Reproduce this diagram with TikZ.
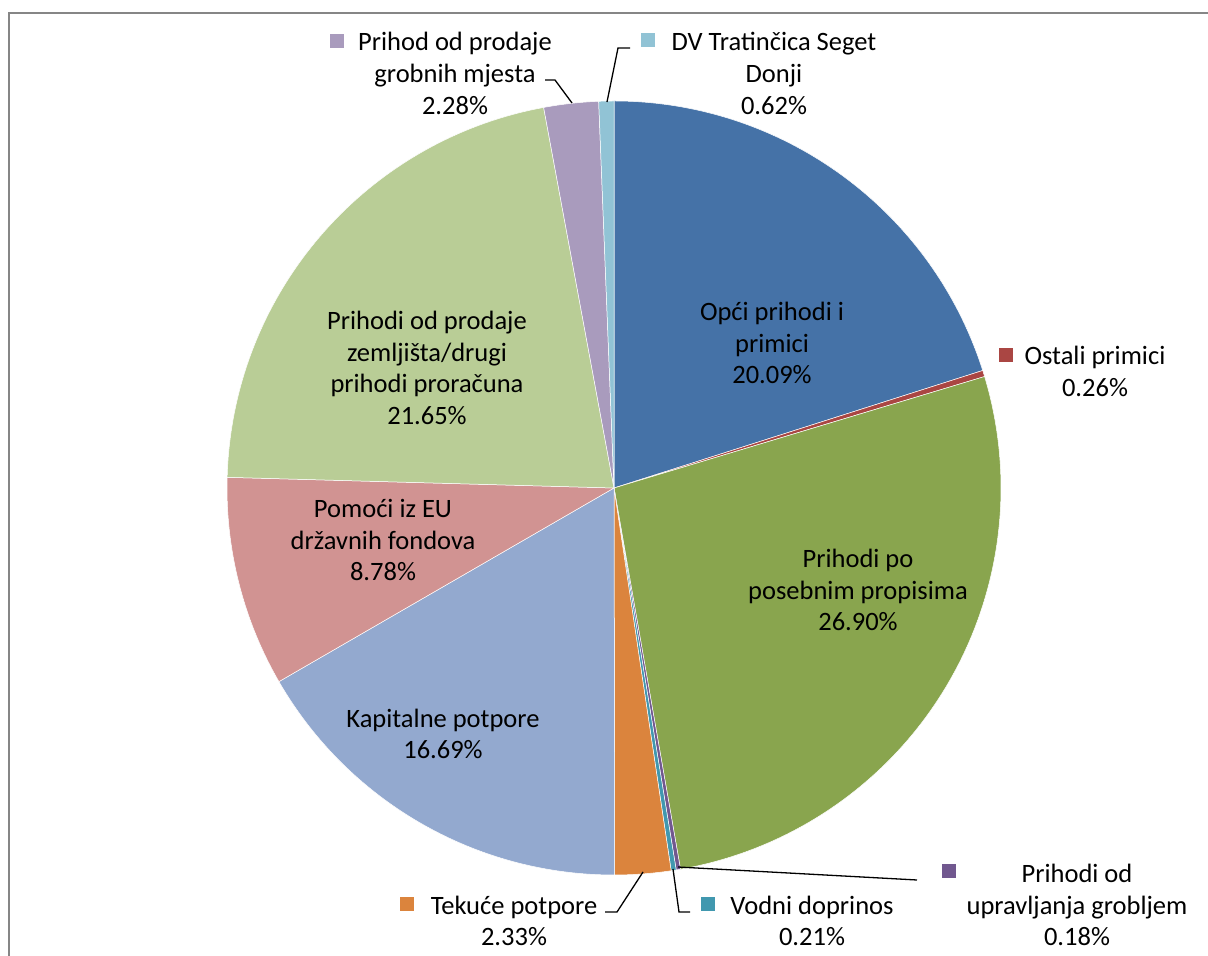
\documentclass[tikz,border=0pt]{standalone}
\usepackage{fontspec}
\setmainfont{Carlito}
\definecolor{cA}{HTML}{4572A7}
\definecolor{cB}{HTML}{AA4643}
\definecolor{cC}{HTML}{89A54E}
\definecolor{cD}{HTML}{71588F}
\definecolor{cE}{HTML}{4198AF}
\definecolor{cF}{HTML}{DB843D}
\definecolor{cG}{HTML}{93A9CF}
\definecolor{cH}{HTML}{D19392}
\definecolor{cI}{HTML}{B9CD96}
\definecolor{cJ}{HTML}{A99BBD}
\definecolor{cK}{HTML}{91C3D5}
\definecolor{frame}{HTML}{868686}
\tikzset{
  lbl/.style={align=center, inner sep=0pt, font=\fontsize{26.5}{31.8}\selectfont},
  key/.style={minimum size=14pt, inner sep=0pt, draw=none},
  leader/.style={draw=black, line width=1.3pt},
  slice/.style={draw=white, line width=0.5pt}
}
\newcommand{\pieslice}[3]{\fill[#3, slice] (614,468) -- ++(#1:387) arc[start angle=#1, end angle=#2, radius=387] -- cycle;}
\begin{document}
\begin{tikzpicture}[x=1pt,y=1pt]
\useasboundingbox (0,0) rectangle (1208,956);
\fill[white] (0,0) rectangle (1208,956);
\draw[frame, line width=2pt] (9,-5) -- (9,943) -- (1215,943);
\coordinate (c) at (614,468);
\pieslice{90}{17.676}{cA}
\pieslice{17.676}{16.74}{cB}
\pieslice{16.74}{-80.1}{cC}
\pieslice{-80.1}{-80.748}{cD}
\pieslice{-80.748}{-81.504}{cE}
\pieslice{-81.504}{-89.892}{cF}
\pieslice{-89.892}{-149.976}{cG}
\pieslice{-149.976}{-181.584}{cH}
\pieslice{-181.584}{-259.524}{cI}
\pieslice{-259.524}{-267.732}{cJ}
\pieslice{-267.732}{-270}{cK}
% inside labels
\node[lbl] (opci) at (772,613) {Opći prihodi i\\primici\\20.09\%};
\node[lbl] (pos) at (858,366) {Prihodi po\\posebnim propisima\\26.90\%};
\node[lbl] (kap) at (443,222) {Kapitalne potpore\\16.69\%};
\node[lbl] (pom) at (383,416) {Pomoći iz EU\\državnih fondova\\8.78\%};
\node[lbl] (zem) at (427,588) {Prihodi od prodaje\\zemljišta/drugi\\prihodi proračuna\\21.65\%};
% outside labels
\node[lbl] (ost) at (1095,584.5) {Ostali primici\\0.26\%};
\node[key, fill=cB] (kost) at (1006,601) {};
\node[lbl] (upr) at (1077,51) {Prihodi od\\upravljanja grobljem\\0.18\%};
\node[key, fill=cD] (kupr) at (949,85) {};
\node[lbl] (vod) at (812,35) {Vodni doprinos\\0.21\%};
\node[key, fill=cE] (kvod) at (708,52) {};
\node[lbl] (tek) at (514,35) {Tekuće potpore\\2.33\%};
\node[key, fill=cF] (ktek) at (407,52) {};
\node[lbl] (gro) at (455,882.5) {Prihod od prodaje\\grobnih mjesta\\2.28\%};
\node[key, fill=cJ] (kgro) at (337,915) {};
\node[lbl] (dv) at (774,882.5) {DV Tratinčica Seget\\Donji\\0.62\%};
\node[key, fill=cK] (kdv) at (648,916) {};
% leader lines
\coordinate (gA) at (545,876);
\coordinate (gB) at (555,876);
\coordinate (gC) at (572,853);
\draw[leader] (gA) -- (gB) -- (gC);
\coordinate (dA) at (630,908);
\coordinate (dB) at (618,908);
\coordinate (dC) at (607,854);
\draw[leader] (dA) -- (dB) -- (dC);
\coordinate (tA) at (605,44);
\coordinate (tB) at (617,44);
\coordinate (tC) at (643,84);
\draw[leader] (tA) -- (tB) -- (tC);
\coordinate (vA) at (673,87);
\coordinate (vB) at (679,44);
\coordinate (vC) at (690,44);
\draw[leader] (vA) -- (vB) -- (vC);
\coordinate (uA) at (678,89);
\coordinate (uB) at (917,76);
\draw[leader] (uA) -- (uB);
\end{tikzpicture}
\end{document}
